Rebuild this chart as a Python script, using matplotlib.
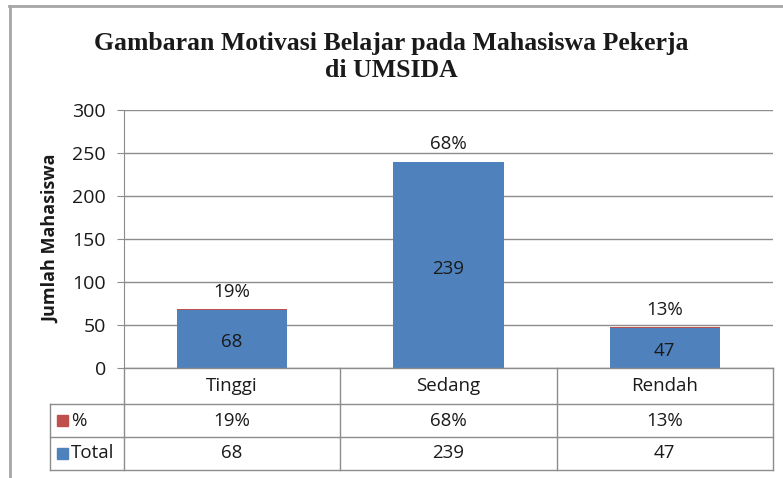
import numpy as np
import matplotlib.pyplot as plt
from matplotlib.lines import Line2D
from matplotlib.patches import Rectangle

categories = ['Tinggi', 'Sedang', 'Rendah']
total = [68, 239, 47]
persen = [0.19, 0.68, 0.13]
persen_labels = ['19%', '68%', '13%']

W, H = 783, 478
blue = '#4F81BD'
red = '#C0504D'
grid_c = '#8c8c8c'
txt_c = '#1a1a1a'
font = 'Open Sans'
fs = 13.5

fig = plt.figure(figsize=(W / 100, H / 100), dpi=100)

def fx(px):
    return px / W

def fy(py):
    return 1 - py / H

# plot area
x0, x1, ytop, ybot = 124, 773, 110, 368
ax = fig.add_axes([fx(x0), fy(ybot), fx(x1) - fx(x0), fy(ytop) - fy(ybot)])
x = np.arange(len(categories))
ax.bar(x, total, width=0.51, color=blue, zorder=3)
ax.bar(x, persen, bottom=total, width=0.51, color=red, zorder=3)
ax.set_xlim(-0.5, 2.5)
ax.set_ylim(0, 300)
ax.set_yticks(range(0, 301, 50))
ax.yaxis.grid(True, color=grid_c, linewidth=1)
ax.set_axisbelow(True)
for s in ['top', 'right', 'bottom']:
    ax.spines[s].set_visible(False)
ax.spines['left'].set_color(grid_c)
ax.set_xticks([])
ax.tick_params(axis='y', length=5, color=grid_c, labelsize=14, labelcolor=txt_c, pad=8)
for lab in ax.get_yticklabels():
    lab.set_fontfamily(font)
ax.set_ylabel('Jumlah Mahasiswa', fontsize=13, fontweight='bold', fontfamily=font,
              color=txt_c, labelpad=9)

for i in range(len(categories)):
    ax.text(x[i], total[i] / 2 - 4, str(total[i]), ha='center', va='center',
            fontsize=fs, fontfamily=font, color=txt_c, zorder=4)
    ax.text(x[i], total[i] + persen[i] + 10, persen_labels[i], ha='center', va='bottom',
            fontsize=fs, fontfamily=font, color=txt_c, zorder=4)

# title
fig.text(0.5, fy(57), 'Gambaran Motivasi Belajar pada Mahasiswa Pekerja\ndi UMSIDA',
         ha='center', va='center', fontsize=18.5, fontweight='bold',
         fontfamily='Liberation Serif', color=txt_c, linespacing=1.2)

# outer frame
fig.add_artist(Line2D([fx(9), fx(783)], [fy(5.5), fy(5.5)], color='#a6a6a6', lw=2))
fig.add_artist(Line2D([fx(9.5), fx(9.5)], [fy(5.5), fy(478)], color='#a6a6a6', lw=2))

# data table
xl = 50
col_w = (x1 - x0) / 3
r0, r1, r2, r3 = 368, 404, 437, 470
def hline(xa, xb, yy):
    fig.add_artist(Line2D([fx(xa), fx(xb)], [fy(yy), fy(yy)], color=grid_c, lw=1))
def vline(xx, ya, yb):
    fig.add_artist(Line2D([fx(xx), fx(xx)], [fy(ya), fy(yb)], color=grid_c, lw=1))

hline(x0, x1, r0)
hline(xl, x1, r1)
hline(xl, x1, r2)
hline(xl, x1, r3)
for k in range(4):
    vline(x0 + k * col_w, r0, r3)
vline(xl, r1, r3)

for i, c in enumerate(categories):
    cx = fx(x0 + (i + 0.5) * col_w)
    fig.text(cx, fy((r0 + r1) / 2), c, ha='center', va='center', fontsize=fs,
             fontfamily=font, color=txt_c)
    fig.text(cx, fy((r1 + r2) / 2), persen_labels[i], ha='center', va='center',
             fontsize=fs, fontfamily=font, color=txt_c)
    fig.text(cx, fy((r2 + r3) / 2), str(total[i]), ha='center', va='center',
             fontsize=fs, fontfamily=font, color=txt_c)

# legend keys
for (lab, col, ya, yb) in [('%', red, r1, r2), ('Total', blue, r2, r3)]:
    ym = (ya + yb) / 2
    fig.add_artist(Rectangle((fx(57), fy(ym + 5)), fx(11), fy(0) - fy(11),
                             color=col, transform=fig.transFigure))
    fig.text(fx(71), fy(ym), lab, ha='left', va='center', fontsize=fs,
             fontfamily=font, color=txt_c)

fig.savefig('out.png', dpi=100)
